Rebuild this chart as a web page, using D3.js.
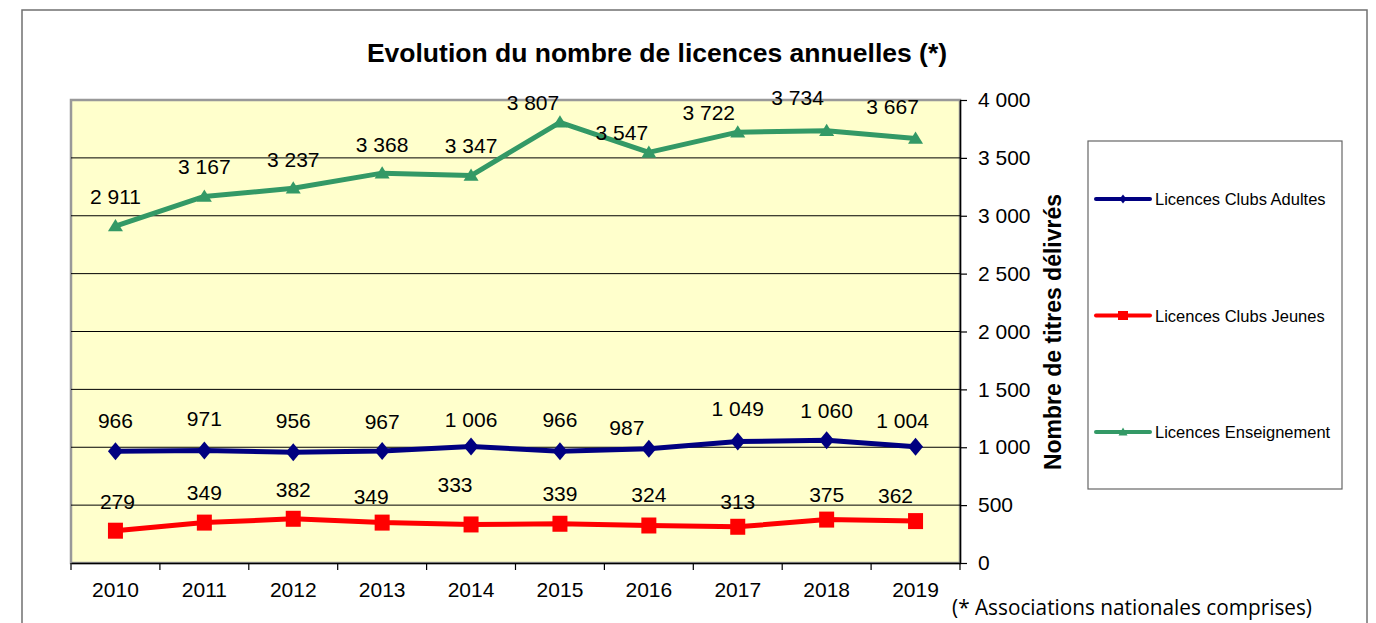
<!DOCTYPE html>
<html>
<head>
<meta charset="utf-8">
<script src="https://cdn.jsdelivr.net/npm/d3@7"></script>
<style>
  html, body { margin: 0; padding: 0; background: #fff; }
  svg { display: block; font-family: Arial, "Liberation Sans", sans-serif; }
</style>
</head>
<body>
<svg id="chart" width="1376" height="623"></svg>
<script>
// ---------------- DATA ----------------
const years = ["2010", "2011", "2012", "2013", "2014", "2015", "2016", "2017", "2018", "2019"];
const adultes = [966, 971, 956, 967, 1006, 966, 987, 1049, 1060, 1004];
const jeunes = [279, 349, 382, 349, 333, 339, 324, 313, 375, 362];
const enseignement = [2911, 3167, 3237, 3368, 3347, 3807, 3547, 3722, 3734, 3667];
const yTickValues = [0, 500, 1000, 1500, 2000, 2500, 3000, 3500, 4000];
const seriesNames = ["Licences Clubs Adultes", "Licences Clubs Jeunes", "Licences Enseignement"];
const titleText = "Evolution du nombre de licences annuelles (*)";
const yAxisTitle = "Nombre de titres délivrés";
const footnote = "(* Associations nationales comprises)";

// ---------------- LAYOUT (label nudges relative to each point, px) ----------------
const labelNudgeAdultes = { dx: [0, 0, 0, 0, 0, 0, -22, 0, 0, -13], dy: [-31, -32, -32, -30, -27, -32, -21, -33, -30, -26] };
const labelNudgeJeunes = { dx: [2, 0, 0, -11, -16, 0, 0, 0, 0, -20], dy: [-29, -30, -29, -26, -40, -30, -31, -25, -25, -26] };
const labelNudgeEns = { dx: [0, 0, 0, 0, 0, -27, -27, -29, -29, -23], dy: [-30, -30, -29, -29, -30, -20, -20, -20, -33, -32] };

const fmt = d3.formatLocale({ decimal: ",", thousands: " ", grouping: [3], currency: ["", " €"] }).format(",");

const svg = d3.select("#chart");
const W = 1376, H = 623;
const plot = { left: 71, top: 100, right: 960, bottom: 563 };

// outer frame
svg.append("rect").attr("x", 22).attr("y", 10).attr("width", 1345).attr("height", 640)
  .attr("fill", "#fff").attr("stroke", "#707070").attr("stroke-width", 1.5);

const x = d3.scaleBand().domain(years).range([plot.left, plot.right]).padding(0);
const y = d3.scaleLinear().domain([0, 4000]).range([plot.bottom, plot.top]);
const cx = d => x(d) + x.bandwidth() / 2;

// plot area
svg.append("rect").attr("x", plot.left).attr("y", plot.top)
  .attr("width", plot.right - plot.left).attr("height", plot.bottom - plot.top)
  .attr("fill", "#FFFFCC").attr("stroke", "#999").attr("stroke-width", 2.5);

// gridlines
svg.append("g").selectAll("line").data(yTickValues.filter(v => v > 0 && v < 4000)).join("line")
  .attr("x1", plot.left).attr("x2", plot.right)
  .attr("y1", d => y(d)).attr("y2", d => y(d))
  .attr("stroke", "#000").attr("stroke-width", 1);

// right axis
const yAxis = svg.append("g").attr("transform", `translate(${plot.right},0)`)
  .call(d3.axisRight(y).tickValues(yTickValues).tickFormat(fmt).tickSize(7).tickPadding(11).tickSizeOuter(0));
yAxis.select(".domain").attr("stroke", "#000").attr("stroke-width", 1.5);
yAxis.selectAll(".tick line").attr("stroke", "#000").attr("stroke-width", 1.2);
yAxis.selectAll("text").attr("font-size", 21).attr("font-family", "Arial, 'Liberation Sans', sans-serif").attr("fill", "#000");

// bottom axis (labels)
const xAxis = svg.append("g").attr("transform", `translate(0,${plot.bottom})`)
  .call(d3.axisBottom(x).tickSize(0).tickPadding(19).tickSizeOuter(0));
xAxis.select(".domain").attr("stroke", "#000").attr("stroke-width", 1.5);
xAxis.selectAll("text").attr("font-size", 21).attr("font-family", "Arial, 'Liberation Sans', sans-serif").attr("fill", "#000");
// tick marks at category boundaries
const boundaries = years.map(d => x(d)).concat([x.range()[1]]);
xAxis.append("g").selectAll("line").data(boundaries).join("line")
  .attr("x1", d => d).attr("x2", d => d).attr("y1", 0).attr("y2", 7)
  .attr("stroke", "#000").attr("stroke-width", 1.2);

// markers
const markerPaths = {
  diamond: (w, h) => `M0,${-h}L${w},0L0,${h}L${-w},0Z`,
  square: (w, h) => `M${-w},${-h}H${w}V${h}H${-w}Z`,
  triangle: (w, h) => `M0,${-h}L${w},${h * 0.75}L${-w},${h * 0.75}Z`
};

const series = [
  { name: seriesNames[0], values: adultes, color: "#000080", marker: "diamond", mw: 7.5, mh: 9, lw: 3.5, lh: 4.5, nudge: labelNudgeAdultes },
  { name: seriesNames[1], values: jeunes, color: "#FF0000", marker: "square", mw: 7.5, mh: 8, lw: 5, lh: 4.5, nudge: labelNudgeJeunes },
  { name: seriesNames[2], values: enseignement, color: "#339966", marker: "triangle", mw: 7.5, mh: 7, lw: 4.5, lh: 4.5, nudge: labelNudgeEns }
];

const line = d3.line().x((d, i) => cx(years[i])).y(d => y(d));

series.forEach(s => {
  const g = svg.append("g");
  g.append("path").datum(s.values).attr("d", line)
    .attr("fill", "none").attr("stroke", s.color).attr("stroke-width", 5)
    .attr("stroke-linejoin", "round");
  g.selectAll("path.m").data(s.values).join("path").attr("class", "m")
    .attr("transform", (d, i) => `translate(${cx(years[i])},${y(d)})`)
    .attr("d", markerPaths[s.marker](s.mw, s.mh))
    .attr("fill", s.color);
  g.selectAll("text").data(s.values).join("text")
    .attr("x", (d, i) => cx(years[i]) + s.nudge.dx[i])
    .attr("y", (d, i) => y(d) + s.nudge.dy[i])
    .attr("text-anchor", "middle").attr("dominant-baseline", "central")
    .attr("font-size", 21).attr("fill", "#000")
    .text(d => fmt(d));
});

// title
svg.append("text").attr("x", 657).attr("y", 62).attr("text-anchor", "middle")
  .attr("font-size", 26.5).attr("font-weight", "bold").attr("fill", "#000").text(titleText);

// y axis title
svg.append("text").attr("transform", "translate(1053,332) rotate(-90)")
  .attr("text-anchor", "middle").attr("dominant-baseline", "central")
  .attr("font-size", 23).attr("font-weight", "bold").attr("fill", "#000").text(yAxisTitle);

// legend
const legend = svg.append("g");
legend.append("rect").attr("x", 1088).attr("y", 141).attr("width", 254).attr("height", 348)
  .attr("fill", "#fff").attr("stroke", "#666").attr("stroke-width", 1.2);
const legendY = d3.scalePoint().domain(seriesNames).range([199, 432]);
series.forEach(s => {
  const ly = legendY(s.name);
  legend.append("line").attr("x1", 1096).attr("x2", 1150).attr("y1", ly).attr("y2", ly)
    .attr("stroke", s.color).attr("stroke-width", 4).attr("stroke-linecap", "round");
  legend.append("path").attr("transform", `translate(1123,${ly})`)
    .attr("d", markerPaths[s.marker](s.lw, s.lh)).attr("fill", s.color);
  legend.append("text").attr("x", 1155).attr("y", ly).attr("dominant-baseline", "central")
    .attr("font-size", 16.5).attr("fill", "#000").text(s.name);
});

// footnote
svg.append("text").attr("x", 952).attr("y", 615)
  .attr("font-family", "'Open Sans', 'Noto Sans', sans-serif").attr("font-size", 22)
  .attr("textLength", 360).attr("lengthAdjust", "spacingAndGlyphs")
  .attr("fill", "#000").text(footnote);
</script>
</body>
</html>
